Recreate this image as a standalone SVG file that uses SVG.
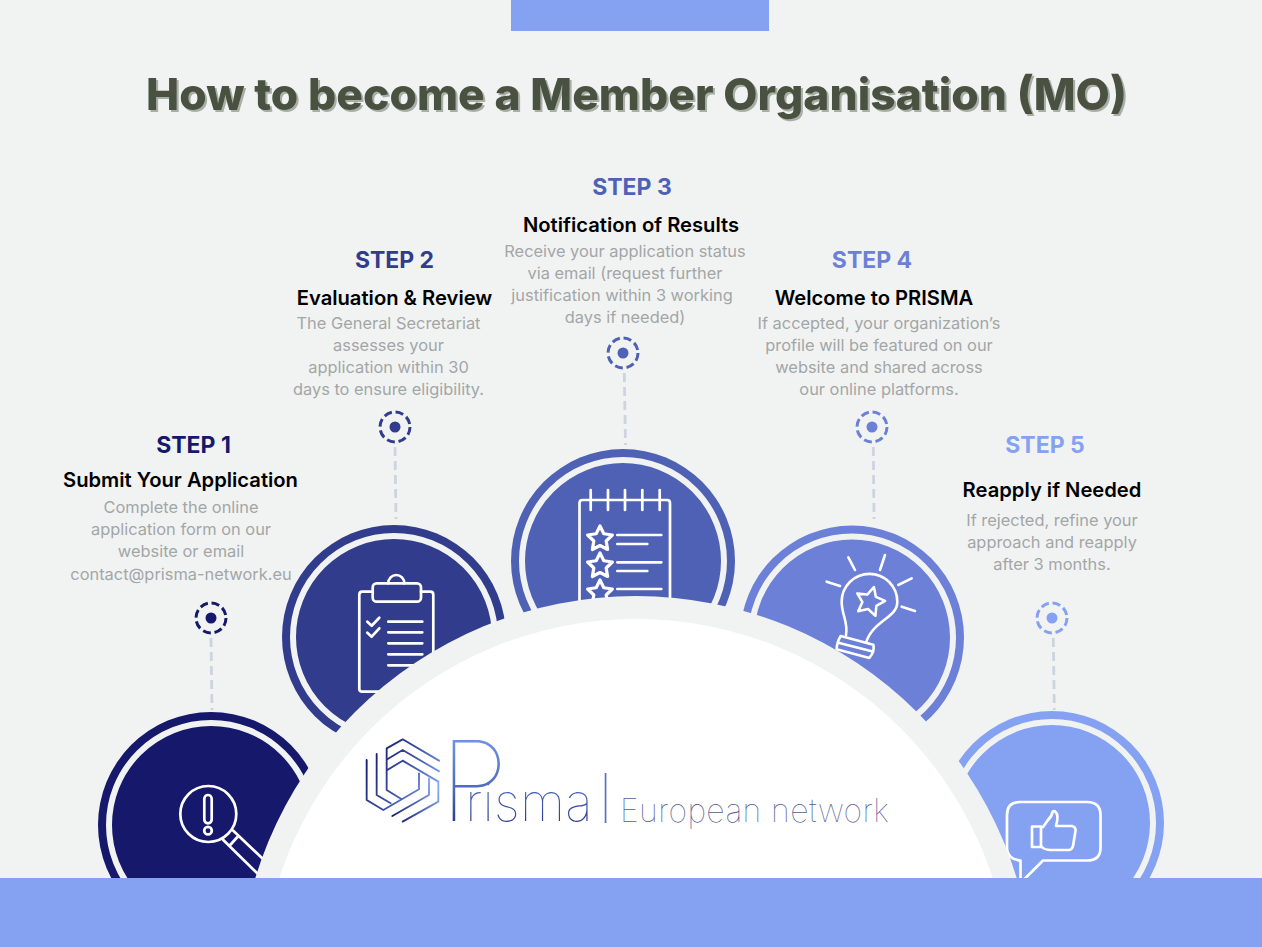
<svg xmlns="http://www.w3.org/2000/svg" width="1262" height="947" viewBox="0 0 1262 947">
<style>
text{font-family:Inter,"Liberation Sans",sans-serif;text-anchor:middle}
.title{font-size:44.400px;font-weight:800;fill:#495140;filter:url(#ts)}
.step{font-size:23px;font-weight:700}
.head{font-size:20.200px;font-weight:600;fill:#000}
.body{font-size:16.400px;fill:#a3a6a6}
.ring{fill:none;stroke:#f1f3f3;stroke-width:6}
.ic{fill:none;stroke:#fff;stroke-width:2.700;stroke-linecap:round;stroke-linejoin:round}
.dash{fill:none;stroke-width:3;stroke-dasharray:8 3.800}
.conn{stroke:#ccd4e0;stroke-width:2.800;stroke-dasharray:9 5;fill:none}
.lg{fill:none;stroke:url(#lg1);stroke-width:5.500;stroke-linecap:round;stroke-linejoin:round}
.lg-b{stroke:url(#lg4)}
.logo{text-anchor:start;font-weight:100}
</style>
<defs>
<filter id="ts" x="-2%" y="-10%" width="104%" height="125%"><feDropShadow dx="2" dy="2" stdDeviation="0.500" flood-color="#a9aea6"/></filter>
<linearGradient id="lg1" gradientUnits="userSpaceOnUse" x1="30" y1="70" x2="235" y2="190"><stop offset="0" stop-color="#16186b"/><stop offset=".5" stop-color="#3b4fa8"/><stop offset="1" stop-color="#85a9f2"/></linearGradient>
<linearGradient id="lg4" gradientUnits="userSpaceOnUse" x1="100" y1="270" x2="235" y2="180"><stop offset="0" stop-color="#16186b"/><stop offset="1" stop-color="#85a9f2"/></linearGradient>
<linearGradient id="lg2" x1="0" y1="1" x2="0" y2="0"><stop offset="0" stop-color="#16186b"/><stop offset=".45" stop-color="#4f6cc0"/><stop offset="1" stop-color="#85a9f2"/></linearGradient>
<path id="star" d="M0-13 3.820-5.260 12.360-4.020 6.180 2.010 7.640 10.520 0 6.500-7.640 10.520-6.180 2.010-12.360-4.020-3.820-5.260Z"/>
</defs>
<rect width="1262" height="947" fill="#f1f3f3"/>
<rect id="top-bar" x="511" y="0" width="258" height="31" fill="#85a1f2"/>
<text class="title" x="636.500" y="110">How to become a Member Organisation (MO)</text>

<g id="connectors">
<path class="conn" d="M211 638 212 710"/>
<path class="conn" d="M395 447 396 519"/>
<path class="conn" d="M624.300 373 625.500 445"/>
<path class="conn" d="M873.300 447 874 519"/>
<path class="conn" d="M1053.300 638 1054.300 710"/>
</g>

<g id="step1">
<text class="step" x="193.500" y="453" fill="#16186b">STEP 1</text>
<text class="head" x="180.500" y="487">Submit Your Application</text>
<text class="body" x="181" y="513">Complete the online</text>
<text class="body" x="181" y="535">application form on our</text>
<text class="body" x="181" y="557">website or email</text>
<text class="body" x="181" y="580">contact@prisma-network.eu</text>
<circle class="dash" cx="211" cy="618" r="15" stroke="#16186b"/><circle cx="211" cy="618" r="5.500" fill="#16186b"/>
<circle cx="211" cy="825" r="113" fill="#16186b"/><circle class="ring" cx="211" cy="825" r="102"/>
<g class="ic"><circle cx="208.300" cy="814" r="28"/><rect x="204.300" y="795" width="7.400" height="28.300" rx="3.700"/><circle cx="208" cy="830.700" r="3.800"/><path d="M223.300 840 258 874M233.300 830.700 263 859M229.300 846 238.300 836"/></g>
</g>

<g id="step2">
<text class="step" x="394.500" y="268" fill="#313c8c">STEP 2</text>
<text class="head" x="394.500" y="305">Evaluation &amp; Review</text>
<text class="body" x="388.500" y="329">The General Secretariat</text>
<text class="body" x="388.500" y="351">assesses your</text>
<text class="body" x="388.500" y="373">application within 30</text>
<text class="body" x="388.500" y="395">days to ensure eligibility.</text>
<circle class="dash" cx="395" cy="427" r="15" stroke="#313c8c"/><circle cx="395" cy="427" r="5.500" fill="#313c8c"/>
<circle cx="394" cy="637" r="112" fill="#313c8c"/><circle class="ring" cx="394" cy="637" r="101"/>
<g class="ic"><path d="M372.700 591.700H362.300Q359.300 591.700 359.300 594.700V688.700Q359.300 691.700 362.300 691.700H430.300Q433.300 691.700 433.300 688.700V594.700Q433.300 591.700 430.300 591.700H421"/><rect x="372.700" y="583.300" width="48.300" height="18.400" rx="4"/><path d="M388.300 583.300A8 8.300 0 0 1 404.300 583.300"/><path d="M367.300 621.700 371.700 625.700 379.300 617.700M367.300 632.700 371.700 636.700 379.300 628.300M388.300 621.700H422.300M388.300 632.300H422.300M388.300 643.300H422.300M388.300 654.300H422.300M388.300 665.300H422.300"/></g>
</g>

<g id="step3">
<text class="step" x="632" y="195" fill="#4f61b5">STEP 3</text>
<text class="head" x="631" y="232">Notification of Results</text>
<text class="body" x="625" y="257">Receive your application status</text>
<text class="body" x="625" y="279">via email (request further</text>
<text class="body" x="622" y="301">justification within 3 working</text>
<text class="body" x="625" y="323">days if needed)</text>
<circle class="dash" cx="623" cy="353" r="15" stroke="#4f61b5"/><circle cx="623" cy="353" r="5.500" fill="#4f61b5"/>
<circle cx="623" cy="561" r="112" fill="#4f61b5"/><circle class="ring" cx="623" cy="561" r="101"/>
<g class="ic"><path d="M579.500 625V503Q579.500 500 582.500 500H667Q670 500 670 503V625"/><path d="M590.700 490V510M608 490V510M625 490V510M642.300 490V510M659.700 490V510M617.300 535H661.300M617.300 544H647.300M617.300 562.300H661.300M617.300 571H647.300M617.300 589H661.300"/><use href="#star" x="600" y="539" stroke-width="3.200"/><use href="#star" x="600" y="566" stroke-width="3.200"/><use href="#star" x="600" y="593" stroke-width="3.200"/></g>
</g>

<g id="step4">
<text class="step" x="872" y="268" fill="#6b80d6">STEP 4</text>
<text class="head" x="874" y="305">Welcome to PRISMA</text>
<text class="body" x="879" y="329">If accepted, your organization’s</text>
<text class="body" x="879" y="351">profile will be featured on our</text>
<text class="body" x="879" y="373">website and shared across</text>
<text class="body" x="879" y="395">our online platforms.</text>
<circle class="dash" cx="872" cy="427" r="15" stroke="#6b80d6"/><circle cx="872" cy="427" r="5.500" fill="#6b80d6"/>
<circle cx="852" cy="637.500" r="112" fill="#6b80d6"/><circle class="ring" cx="852" cy="637.500" r="101"/>
<g class="ic" transform="translate(820 550) scale(.3333)" style="stroke-width:7.800">
<path d="M78 255C85 215 65 195 65 155A83 83 0 0 1 232 155C232 205 160 210 138 278"/>
<path d="M62 258 160 284Q165 305 148 324L50 298Q50 278 62 258ZM55 278 155 304"/>
<path d="M85 22 105 60M195 15 180 60M275 85 235 105M285 183 245 170M20 95 60 108"/>
<use href="#star" transform="translate(150 155) rotate(15) scale(3.500)" style="stroke-width:2.200"/>
</g>
</g>

<g id="step5">
<text class="step" x="1045" y="453" fill="#85a1f2">STEP 5</text>
<text class="head" x="1052" y="497">Reapply if Needed</text>
<text class="body" x="1052" y="526">If rejected, refine your</text>
<text class="body" x="1052" y="548">approach and reapply</text>
<text class="body" x="1052" y="570">after 3 months.</text>
<circle class="dash" cx="1052" cy="618" r="15" stroke="#85a1f2"/><circle cx="1052" cy="618" r="5.500" fill="#85a1f2"/>
<circle cx="1052" cy="823" r="112" fill="#85a1f2"/><circle class="ring" cx="1052" cy="823" r="101"/>
<g class="ic"><path d="M1020.500 880V860.500C1012 860 1007 855 1007 848V815Q1007 802 1020 802H1087Q1100.500 802 1100.500 815V848Q1100.500 860.500 1087 860.500H1043L1023.500 880"/><path d="M1032 826.500H1041V847H1032ZM1043 827 1048 820Q1052 816 1052.500 812 1054 810 1056 812.500 1059 816 1056 826H1072Q1076 827 1075.500 831L1073 846Q1072 849.500 1069 850H1050Q1044 849.500 1042 847"/></g>
</g>

<g id="hub">
<circle cx="636" cy="994" r="398" fill="#f1f3f3"/>
<circle cx="636" cy="994" r="375" fill="#fff"/>
</g>
<rect id="bottom-bar" x="0" y="878" width="1262" height="69" fill="#85a1f2"/>

<g id="logo">
<g transform="translate(360 730) scale(.3333)">
<path class="lg" d="M237 92 128 28 80 55V180L125 208M237 124 128 60 82 88M235 155 128 92 82 120M20 90V210L70 240 177 178V130M50 72V195L92 220"/>
<path class="lg lg-b" d="M235 155V215L128 275M97 258 207 195V145"/>
</g>
<text class="logo" x="440" y="821" fill="url(#lg2)" font-size="52" letter-spacing=".3"><tspan font-size="112">P</tspan><tspan dx="-43">risma</tspan></text>
<rect x="604.700" y="773" width="1.700" height="50" fill="#5a72c0"/>
<text class="logo" x="620" y="821.500" font-size="32" letter-spacing=".4" fill="#565c92">European network</text>
</g>
</svg>
